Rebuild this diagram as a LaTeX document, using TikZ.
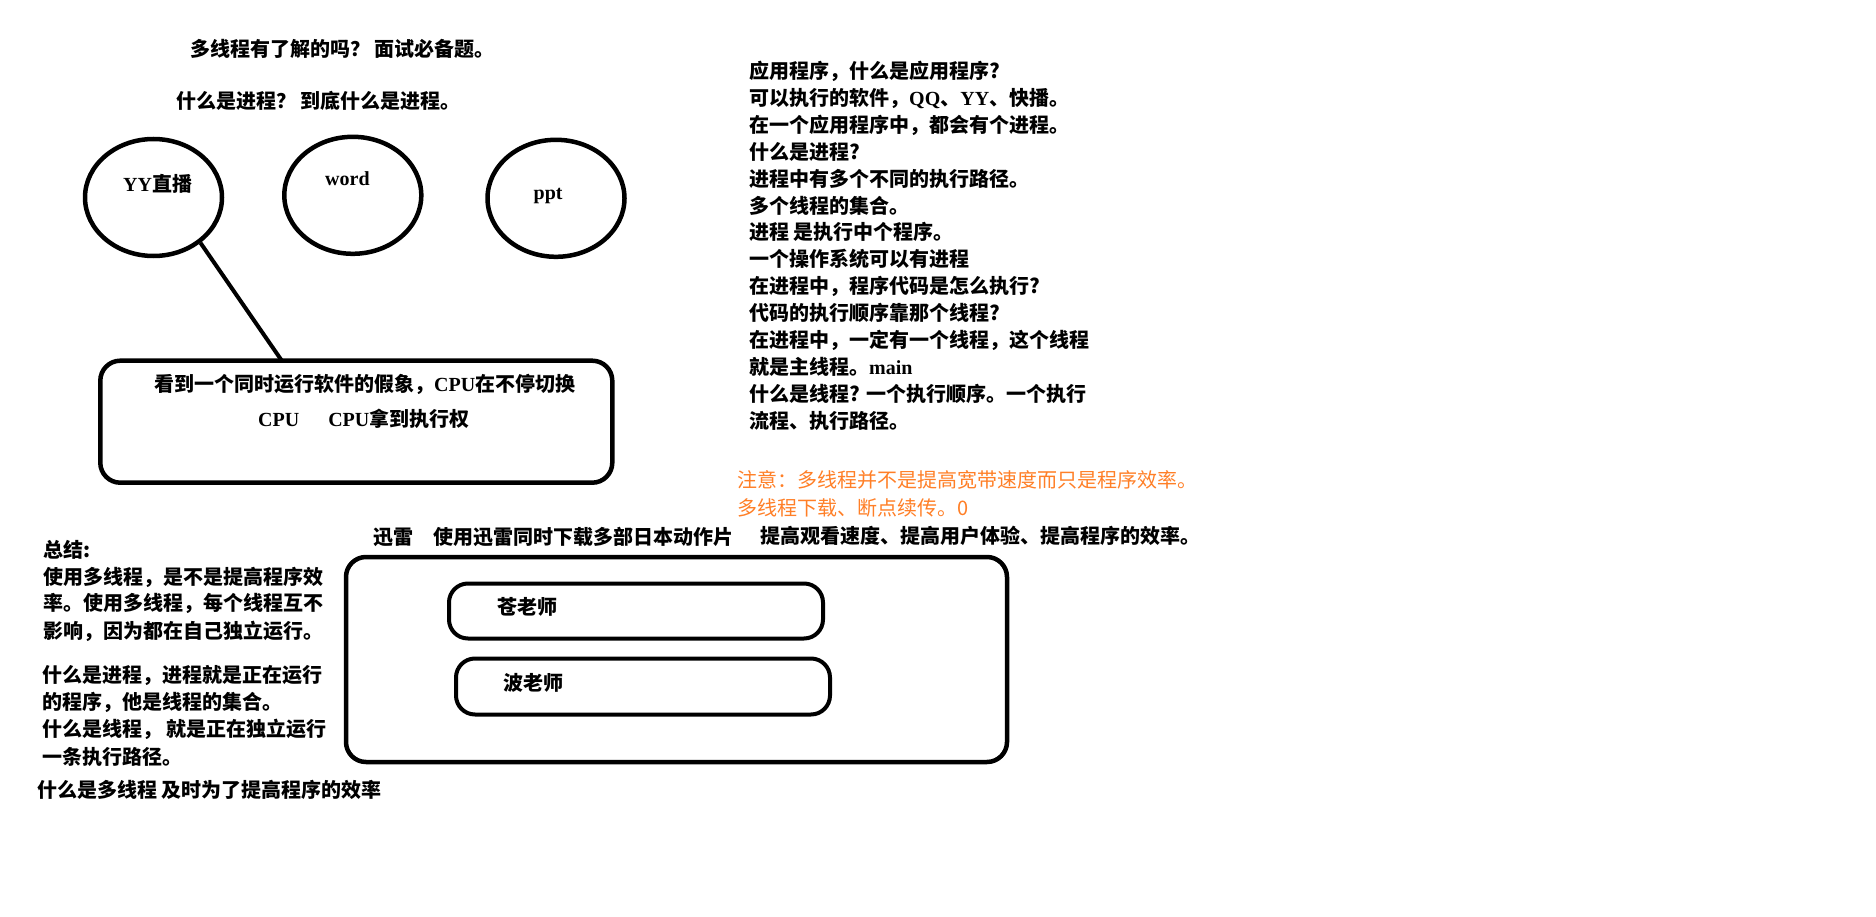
\documentclass[tikz,border=0pt]{standalone}
\usepackage{fontspec}
\usetikzlibrary{shapes.geometric}
\newfontfamily\cjkfont{Noto Sans CJK SC}
\newfontfamily\latfont{Liberation Serif}
\newcommand{\lat}[1]{{\latfont\bfseries #1}}
\definecolor{noteorange}{RGB}{255,127,39}

\tikzset{
	txt/.style={inner sep=0pt, anchor=base west, font=\cjkfont\bfseries\fontsize{20}{24}\selectfont},
	bubble/.style={draw, ellipse, line width=4.5pt, minimum width=137pt, minimum height=117pt, inner sep=0pt},
	frame/.style={draw, rectangle, rounded corners=20pt, line width=4.5pt, inner sep=0pt},
	slot/.style={draw, rectangle, rounded corners=19pt, line width=4pt, minimum width=374pt, inner sep=0pt},
	conn/.style={line width=4pt}
}

\begin{document}
\begin{tikzpicture}[x=1pt, y=-1pt]
	% canvas 1876 x 917 px, 1px = 1pt
	\useasboundingbox[fill=white] (0,0) rectangle (1876,917);

	% questions on top
	\node[txt] (title) at (190,57) {多线程有了解的吗？ 面试必备题。};
	\node[txt] (question) at (176,109) {什么是进程？ 到底什么是进程。};

	% three programs
	\node[bubble] (yy) at (153.5,197.5) {};
	\node[bubble] (word) at (352.8,195.3) {};
	\node[bubble] (ppt) at (556,198.3) {};
	\node[txt] (yylabel) at (123,192) {\lat{YY}直播};
	\node[txt] (wordlabel) at (325,186) {\lat{word}};
	\node[txt] (pptlabel) at (533.5,200) {\lat{ppt}};

	% cpu box
	\node[frame, minimum width=512pt, minimum height=122pt] (cpubox) at (356.3,421.7) {};
	\coordinate (cputip) at (282,361);
	\draw[conn] (yy.-44) -- (cputip);
	\node[txt] (cpuline1) at (154,391) {看到一个同时运行软件的假象，\lat{CPU}在不停切换};
	\node[txt] (cpuline2) at (258,426) {\lat{CPU}\hspace{29pt}\lat{CPU}拿到执行权};

	% notes on the right
	\foreach \t [count=\i] in {
		应用程序，什么是应用程序?,
		可以执行的软件，\lat{QQ}、\lat{YY}、快播。,
		在一个应用程序中，都会有个进程。,
		什么是进程?,
		进程中有多个不同的执行路径。,
		多个线程的集合。,
		进程 是执行中个程序。,
		一个操作系统可以有进程,
		在进程中，程序代码是怎么执行?,
		代码的执行顺序靠那个线程?,
		在进程中，一定有一个线程，这个线程,
		就是主线程。\lat{main},
		什么是线程? 一个执行顺序。一个执行,
		流程、执行路径。}
		\node[txt] (note\i) at (749,78.3+26.95*\i-26.95) {\t};

	\node[txt, text=noteorange, font=\cjkfont\mdseries\fontsize{20}{24}\selectfont] (warn1) at (737,487.6) {注意：多线程并不是提高宽带速度而只是程序效率。};
	\node[txt, text=noteorange, font=\cjkfont\mdseries\fontsize{20}{24}\selectfont] (warn2) at (737,515) {多线程下载、断点续传。0};
	\node[txt] (gain) at (760,543.6) {提高观看速度、提高用户体验、提高程序的效率。};

	% summary on the left
	\node[txt] (sum1) at (43,557.6) {总结:};
	\node[txt] (sum2) at (43,584.3) {使用多线程，是不是提高程序效};
	\node[txt] (sum3) at (43,610.9) {率。使用多线程，每个线程互不};
	\node[txt] (sum4) at (43,638.3) {影响，因为都在自己独立运行。};
	\node[txt] (sum5) at (42,682.6) {什么是进程，进程就是正在运行};
	\node[txt] (sum6) at (42,709.9) {的程序，他是线程的集合。};
	\node[txt] (sum7) at (42,736.6) {什么是线程， 就是正在独立运行};
	\node[txt] (sum8) at (42,764.3) {一条执行路径。};
	\node[txt] (sum9) at (37,797.6) {什么是多线程 及时为了提高程序的效率};

	% xunlei downloads
	\node[txt] (xunlei) at (373,544.6) {迅雷\hspace{20pt}使用迅雷同时下载多部日本动作片};
	\node[frame, minimum width=661pt, minimum height=205pt] (xlbox) at (676.5,659.5) {};
	\node[slot, minimum height=55pt] (task1) at (636,611) {};
	\node[slot, minimum height=56pt] (task2) at (643,686.5) {};
	\node[txt] (task1label) at (497,614.3) {苍老师};
	\node[txt] (task2label) at (503,690.3) {波老师};
\end{tikzpicture}
\end{document}
